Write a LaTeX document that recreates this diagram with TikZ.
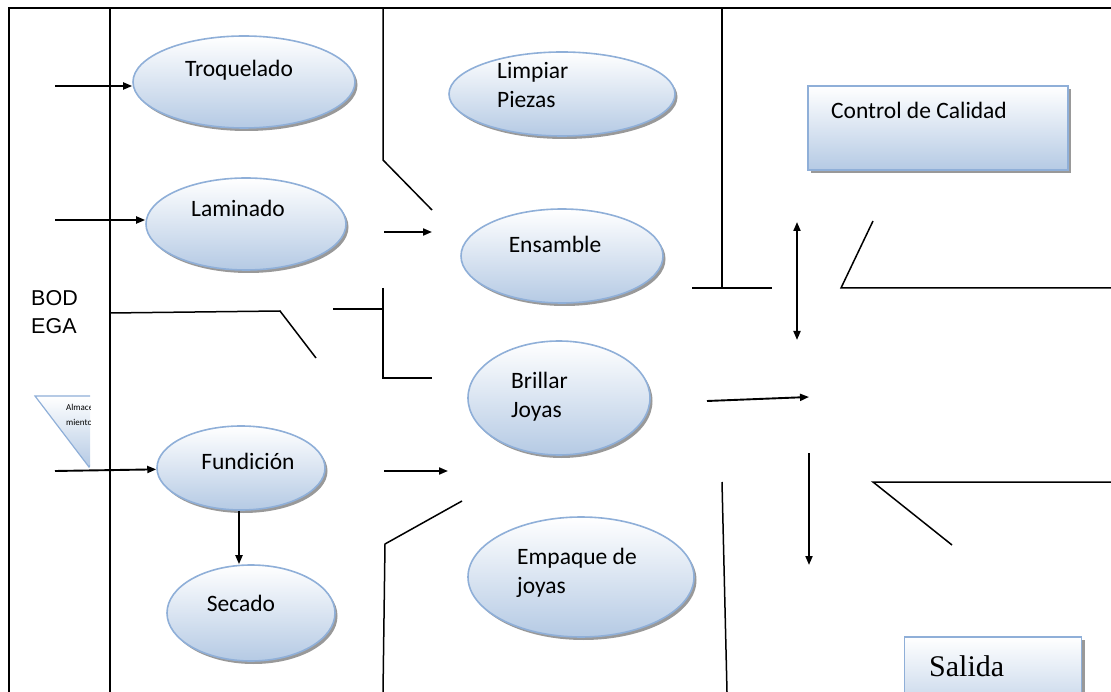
\documentclass[tikz,border=0pt]{standalone}
\usepackage{fontspec}
\setmainfont{Carlito}
\newfontfamily\arialfont{Liberation Sans}
\newfontfamily\timesfont{Liberation Serif}
\usetikzlibrary{shapes.geometric, arrows.meta, shadows}
\definecolor{azulborde}{HTML}{8FAFD8}
\definecolor{azulfondo}{HTML}{B5CAE4}
\tikzstyle{proceso} = [ellipse, draw=azulborde, line width=1.6pt, top color=white, bottom color=azulfondo, inner sep=0pt, drop shadow={shadow xshift=2.5pt, shadow yshift=-3pt, fill=black!40, opacity=1}]
\tikzstyle{caja} = [rectangle, draw=azulborde, line width=1.6pt, top color=white, bottom color=azulfondo, inner sep=0pt, drop shadow={shadow xshift=3pt, shadow yshift=-3pt, fill=black!40, opacity=1}]
\tikzstyle{texto} = [font=\fontsize{23.5}{29}\selectfont, inner sep=0pt, anchor=base]
\tikzstyle{textoizq} = [font=\fontsize{23.5}{29}\selectfont, inner sep=0pt, anchor=north west, align=left]
\tikzstyle{marco} = [line width=1.9pt]
\tikzstyle{muro} = [line width=1.5pt]
\tikzstyle{arrow} = [line width=1.9pt,-{Triangle[length=9pt,width=7pt]}]

\begin{document}
\begin{tikzpicture}[x=1pt, y=-1pt]
\useasboundingbox (0,0) rectangle (1111,692);
%marco
\draw[marco] (1111,8) -- (9,8) -- (9,692);
\draw[marco] (110,8) -- (110,692);
%muros
\draw[muro] (383,8) -- (383,160) -- (432,210);
\draw[muro] (722,9) -- (722,288);
\draw[muro] (692,288) -- (772,288);
\draw[muro] (873,221) -- (841,288) -- (1111,288);
\draw[muro] (110,313) -- (280,311) -- (316,358);
\draw[muro] (333,309) -- (383,309);
\draw[muro] (383,288) -- (383,378) -- (432,378);
\draw[muro] (462,501) -- (385,544) -- (383,692);
\draw[muro] (722,482) -- (727,692);
\draw[muro] (1111,482) -- (873,482) -- (952,545);

%bodega
\node[font=\arialfont\fontsize{21.5}{28}\selectfont, anchor=north west, align=left, inner sep=0pt] (bodega) at (31,290) {BOD\\EGA};
%almacenamiento
\begin{scope}
\clip (30,390) rectangle (90,470);
\draw[draw=azulborde, line width=1.2pt, top color=white, bottom color=azulfondo] (35,396) -- (143,396) -- (89,467) -- cycle;
\node[font=\fontsize{9}{15}\selectfont, anchor=north west, align=left, inner sep=0pt] (alm) at (66,404) {Almacena\\miento};
\end{scope}

%nodes
\node[proceso, minimum width=222pt, minimum height=92pt] (troq) at (244,82) {};
\node[proceso, minimum width=226pt, minimum height=84pt] (limp) at (562,94) {};
\node[proceso, minimum width=200pt, minimum height=92pt] (lam) at (246,224) {};
\node[proceso, minimum width=202pt, minimum height=94pt] (ens) at (562,256) {};
\node[proceso, minimum width=182pt, minimum height=114pt] (bri) at (559,398) {};
\node[proceso, minimum width=168pt, minimum height=84pt] (fund) at (241,468) {};
\node[proceso, minimum width=168pt, minimum height=96pt] (sec) at (251,613) {};
\node[proceso, minimum width=226pt, minimum height=120pt] (emp) at (581,577) {};
\node[caja, minimum width=260pt, minimum height=84pt] (control) at (938,128) {};
\node[caja, minimum width=177pt, minimum height=90pt] (salida) at (993,682) {};

%textos
\node[texto] (troqT) at (239,77) {Troquelado};
\node[textoizq] (limpT) at (497,62) {Limpiar\\Piezas};
\node[texto] (lamT) at (238,217) {Laminado};
\node[texto] (ensT) at (555,253) {Ensamble};
\node[textoizq] (briT) at (511,372) {Brillar\\Joyas};
\node[texto] (fundT) at (248,469) {Fundición};
\node[texto] (secT) at (241,611) {Secado};
\node[textoizq] (empT) at (517,548) {Empaque de\\joyas};
\node[texto, anchor=base west] (controlT) at (831,119) {Control de Calidad};
\node[font=\timesfont\fontsize{30}{30}\selectfont, inner sep=0pt, anchor=base west] (salidaT) at (929,676) {Salida};

%arrows
\coordinate (eTroq) at (55,86);
\coordinate (eLam) at (55,220);
\coordinate (eFund) at (55,471);
\coordinate (ensA) at (384,232);
\coordinate (ensB) at (432,232);
\coordinate (briA) at (384,471);
\coordinate (briB) at (448,471);
\coordinate (salA) at (707,401);
\coordinate (salB) at (809,397);
\coordinate (ccA) at (797,222);
\coordinate (ccB) at (797,340);
\coordinate (baA) at (809,453);
\coordinate (baB) at (809,565);
\draw [arrow] (eTroq) -- (eTroq -| troq.west);
\draw [arrow] (eLam) -- (eLam -| lam.west);
\draw [arrow] (eFund) -- (fund);
\draw [arrow] ([xshift=-2pt]fund.south) -- ([xshift=-2pt]fund.south |- sec.north);
\draw [arrow] (ensA) -- (ensB);
\draw [arrow] (briA) -- (briB);
\draw [arrow] (salA) -- (salB);
\draw [arrow, {Triangle[length=9pt,width=7pt]}-{Triangle[length=9pt,width=7pt]}] (ccA) -- (ccB);
\draw [arrow] (baA) -- (baB);
\end{tikzpicture}
\end{document}
